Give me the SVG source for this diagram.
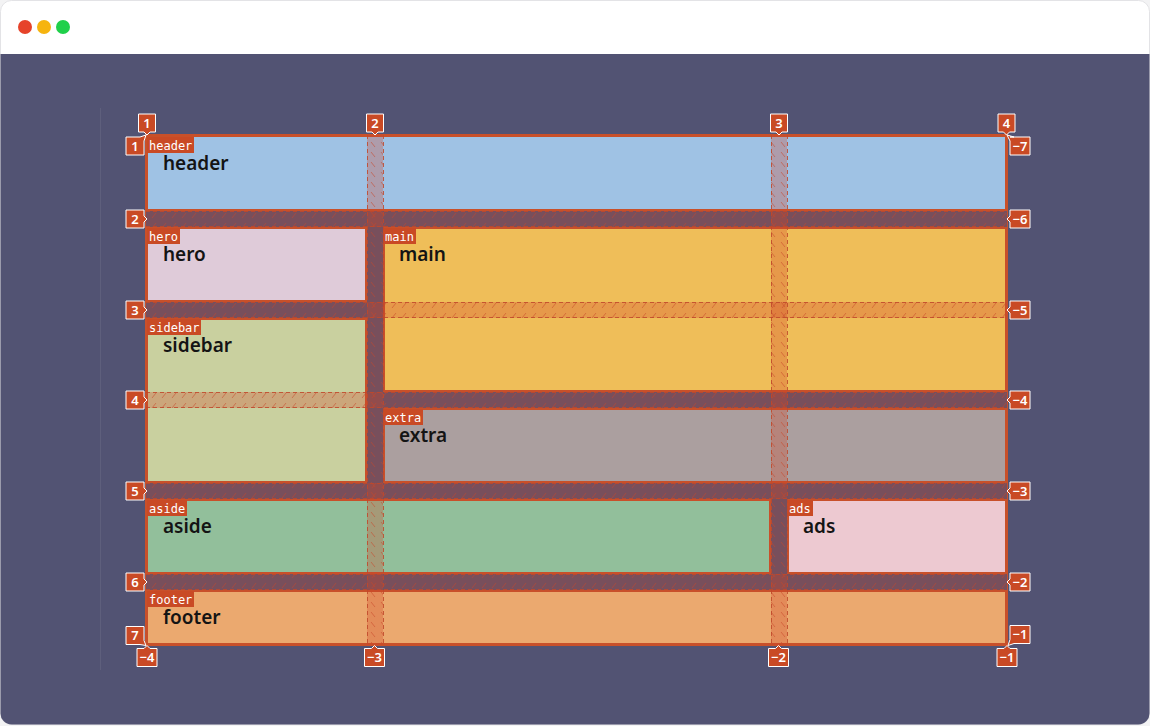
<svg xmlns="http://www.w3.org/2000/svg" xmlns:xlink="http://www.w3.org/1999/xlink" width="1150" height="726" viewBox="0 0 1150 726">
  <style>
    .item { stroke: #c8502a; stroke-width: 2; }
    .tag { fill: #c94a25; }
    .tag-text { font-family: "DejaVu Sans Mono", "Liberation Mono", monospace; font-size: 12px; fill: #ffffff; }
    .label { font-family: "Noto Sans", "Open Sans", sans-serif; font-size: 19px; font-weight: 600; fill: #141414; }
    .gap-col { fill: url(#hatchCol); }
    .gap-row { fill: url(#hatchRow); }
    .gap-tint { fill: rgba(208, 70, 40, 0.3); }
    .line-dash { stroke: #c0482a; stroke-width: 1; stroke-dasharray: 4 3; fill: none; opacity: 0.85; }
    .badge { fill: #c94a25; stroke: #ffffff; stroke-width: 1; }
    .badge-text { font-family: "Noto Sans", "Open Sans", sans-serif; font-size: 13px; font-weight: 600; fill: #ffffff; text-anchor: middle; }
  </style>
  <defs>
    <!-- diagonal dash hatching for the gutters -->
    <pattern id="hatchCol" patternUnits="userSpaceOnUse" width="10" height="10">
      <path d="M1,2 L5,7" stroke="rgba(200,70,40,0.55)" stroke-width="1"/>
    </pattern>
    <pattern id="hatchRow" patternUnits="userSpaceOnUse" width="10" height="10">
      <path d="M2,8 L6,3" stroke="rgba(200,70,40,0.55)" stroke-width="1"/>
    </pattern>
    <!-- line-number badge shapes, centred on the origin -->
    <path id="bTop" d="M-8.5,-9 H8.5 V9 H3 L0,12 L-3,9 H-8.5 Z"/>
    <path id="bLeft" d="M-9,-9 H9 V-3 L12,0 L9,3 V9 H-9 Z"/>
    <path id="bRight" d="M-10,-9 H10 V9 H-10 V3 L-13,0 L-10,-3 Z"/>
    <path id="bBottom" d="M-10,-9 H-3 L0,-12 L3,-9 H10 V9 H-10 Z"/>
    <path id="bLeftTop" d="M-9,-9 H5 L11,-11 L9,-5 V9 H-9 Z"/>
    <path id="bLeftBottom" d="M-9,-9 H9 V5 L11,10 L5,9 H-9 Z"/>
    <path id="bRightTop" d="M-10,-9 H10 V9 H-10 V-5 L-13,-11 L-6,-9 Z"/>
    <path id="bRightBottom" d="M-10,-9 H10 V9 H-6 L-12,11 L-10,5 Z"/>
  </defs>

  <!-- window frame -->
  <rect x="0" y="0" width="1150" height="726" fill="#f3f3f4"/>
  <rect x="0.5" y="0.5" width="1149" height="724" rx="11" fill="#ffffff" stroke="#e3e3e6"/>
  <path d="M0.5,54 H1149.5 V713 A11,11 0 0 1 1138.5,724.5 H11.5 A11,11 0 0 1 0.5,713 Z" fill="#525373"/>
  <circle cx="25" cy="27" r="7" fill="#e6432a"/>
  <circle cx="44" cy="27" r="7" fill="#f6b40f"/>
  <circle cx="63" cy="27" r="7" fill="#20d04a"/>
  <line x1="100.5" y1="108" x2="100.5" y2="670" stroke="rgba(255,255,255,0.07)" stroke-width="1"/>

  <!-- grid items -->
  <g id="header">
    <rect class="item" x="147" y="136" width="859" height="74" fill="#9fc2e4"/>
    <rect class="tag" x="147" y="137" width="47" height="16"/>
    <text class="tag-text" x="149" y="149.5">header</text>
    <text class="label" x="163" y="170">header</text>
  </g>
  <g id="hero">
    <rect class="item" x="147" y="228" width="219" height="73" fill="#dfcbd9"/>
    <rect class="tag" x="147" y="228" width="33" height="16"/>
    <text class="tag-text" x="149" y="240.5">hero</text>
    <text class="label" x="163" y="261">hero</text>
  </g>
  <g id="main">
    <rect class="item" x="384" y="228" width="622" height="163" fill="#efbe59"/>
    <rect class="tag" x="383" y="228" width="33" height="16"/>
    <text class="tag-text" x="385" y="240.5">main</text>
    <text class="label" x="399" y="261">main</text>
  </g>
  <g id="sidebar">
    <rect class="item" x="147" y="319" width="219" height="163" fill="#c9d09f"/>
    <rect class="tag" x="147" y="319" width="54" height="16"/>
    <text class="tag-text" x="149" y="331.5">sidebar</text>
    <text class="label" x="163" y="352">sidebar</text>
  </g>
  <g id="extra">
    <rect class="item" x="384" y="409" width="622" height="73" fill="#ab9f9f"/>
    <rect class="tag" x="383" y="409" width="40" height="16"/>
    <text class="tag-text" x="385" y="421.5">extra</text>
    <text class="label" x="399" y="442">extra</text>
  </g>
  <g id="aside">
    <rect class="item" x="147" y="500" width="623" height="73" fill="#92bf9b"/>
    <rect class="tag" x="147" y="500" width="40" height="16"/>
    <text class="tag-text" x="149" y="512.5">aside</text>
    <text class="label" x="163" y="533">aside</text>
  </g>
  <g id="ads">
    <rect class="item" x="788" y="500" width="218" height="73" fill="#edc9d1"/>
    <rect class="tag" x="787" y="500" width="26" height="16"/>
    <text class="tag-text" x="789" y="512.5">ads</text>
    <text class="label" x="803" y="533">ads</text>
  </g>
  <g id="footer">
    <rect class="item" x="147" y="591" width="859" height="53" fill="#eba96f"/>
    <rect class="tag" x="147" y="591" width="47" height="16"/>
    <text class="tag-text" x="149" y="603.5">footer</text>
    <text class="label" x="163" y="624">footer</text>
  </g>

  <!-- gutters -->
  <g id="gaps">
    <g class="gap-tint">
      <rect x="367" y="135" width="16" height="510"/>
      <rect x="771" y="135" width="16" height="510"/>
      <rect x="146" y="211" width="861" height="16"/>
      <rect x="146" y="302" width="861" height="16"/>
      <rect x="146" y="392" width="861" height="16"/>
      <rect x="146" y="483" width="861" height="16"/>
      <rect x="146" y="574" width="861" height="16"/>
    </g>
    <g class="gap-col">
      <rect x="367" y="135" width="16" height="510"/>
      <rect x="771" y="135" width="16" height="510"/>
    </g>
    <g class="gap-row">
      <rect x="146" y="211" width="861" height="16"/>
      <rect x="146" y="302" width="861" height="16"/>
      <rect x="146" y="392" width="861" height="16"/>
      <rect x="146" y="483" width="861" height="16"/>
      <rect x="146" y="574" width="861" height="16"/>
    </g>
  </g>

  <!-- grid lines -->
  <g id="grid-lines">
    <path class="line-dash" d="M367.5,135 V645 M383.5,135 V645 M771.5,135 V645 M787.5,135 V645"/>
    <path class="line-dash" d="M146,211.5 H1007 M146,226.5 H1007 M146,302.5 H1007 M146,317.5 H1007 M146,392.5 H1007 M146,407.5 H1007 M146,483.5 H1007 M146,498.5 H1007 M146,574.5 H1007 M146,589.5 H1007"/>
    <rect x="145.5" y="134.5" width="862" height="511" fill="none" stroke="#c8502a" stroke-width="1"/>
  </g>

  <!-- line numbers -->
  <g id="line-numbers">
    <use href="#bTop" class="badge" x="147" y="123"/>
    <text class="badge-text" x="147" y="127.5">1</text>
    <use href="#bTop" class="badge" x="375" y="123"/>
    <text class="badge-text" x="375" y="127.5">2</text>
    <use href="#bTop" class="badge" x="779" y="123"/>
    <text class="badge-text" x="779" y="127.5">3</text>
    <use href="#bTop" class="badge" x="1006.5" y="123"/>
    <text class="badge-text" x="1006.5" y="127.5">4</text>

    <use href="#bLeftTop" class="badge" x="135" y="146"/>
    <text class="badge-text" x="135" y="150.5">1</text>
    <use href="#bLeft" class="badge" x="135" y="219"/>
    <text class="badge-text" x="135" y="223.5">2</text>
    <use href="#bLeft" class="badge" x="135" y="310"/>
    <text class="badge-text" x="135" y="314.5">3</text>
    <use href="#bLeft" class="badge" x="135" y="400"/>
    <text class="badge-text" x="135" y="404.5">4</text>
    <use href="#bLeft" class="badge" x="135" y="491"/>
    <text class="badge-text" x="135" y="495.5">5</text>
    <use href="#bLeft" class="badge" x="135" y="582"/>
    <text class="badge-text" x="135" y="586.5">6</text>
    <use href="#bLeftBottom" class="badge" x="135" y="635.5"/>
    <text class="badge-text" x="135" y="640">7</text>

    <use href="#bRightTop" class="badge" x="1020" y="146"/>
    <text class="badge-text" x="1020" y="150.5">−7</text>
    <use href="#bRight" class="badge" x="1020" y="219"/>
    <text class="badge-text" x="1020" y="223.5">−6</text>
    <use href="#bRight" class="badge" x="1020" y="310"/>
    <text class="badge-text" x="1020" y="314.5">−5</text>
    <use href="#bRight" class="badge" x="1020" y="400"/>
    <text class="badge-text" x="1020" y="404.5">−4</text>
    <use href="#bRight" class="badge" x="1020" y="491"/>
    <text class="badge-text" x="1020" y="495.5">−3</text>
    <use href="#bRight" class="badge" x="1020" y="582"/>
    <text class="badge-text" x="1020" y="586.5">−2</text>
    <use href="#bRightBottom" class="badge" x="1020" y="634.5"/>
    <text class="badge-text" x="1020" y="639">−1</text>

    <use href="#bBottom" class="badge" x="147" y="657.5"/>
    <text class="badge-text" x="147" y="662">−4</text>
    <use href="#bBottom" class="badge" x="374.5" y="657.5"/>
    <text class="badge-text" x="374.5" y="662">−3</text>
    <use href="#bBottom" class="badge" x="778.5" y="657.5"/>
    <text class="badge-text" x="778.5" y="662">−2</text>
    <use href="#bBottom" class="badge" x="1007" y="657.5"/>
    <text class="badge-text" x="1007" y="662">−1</text>
  </g>
</svg>
